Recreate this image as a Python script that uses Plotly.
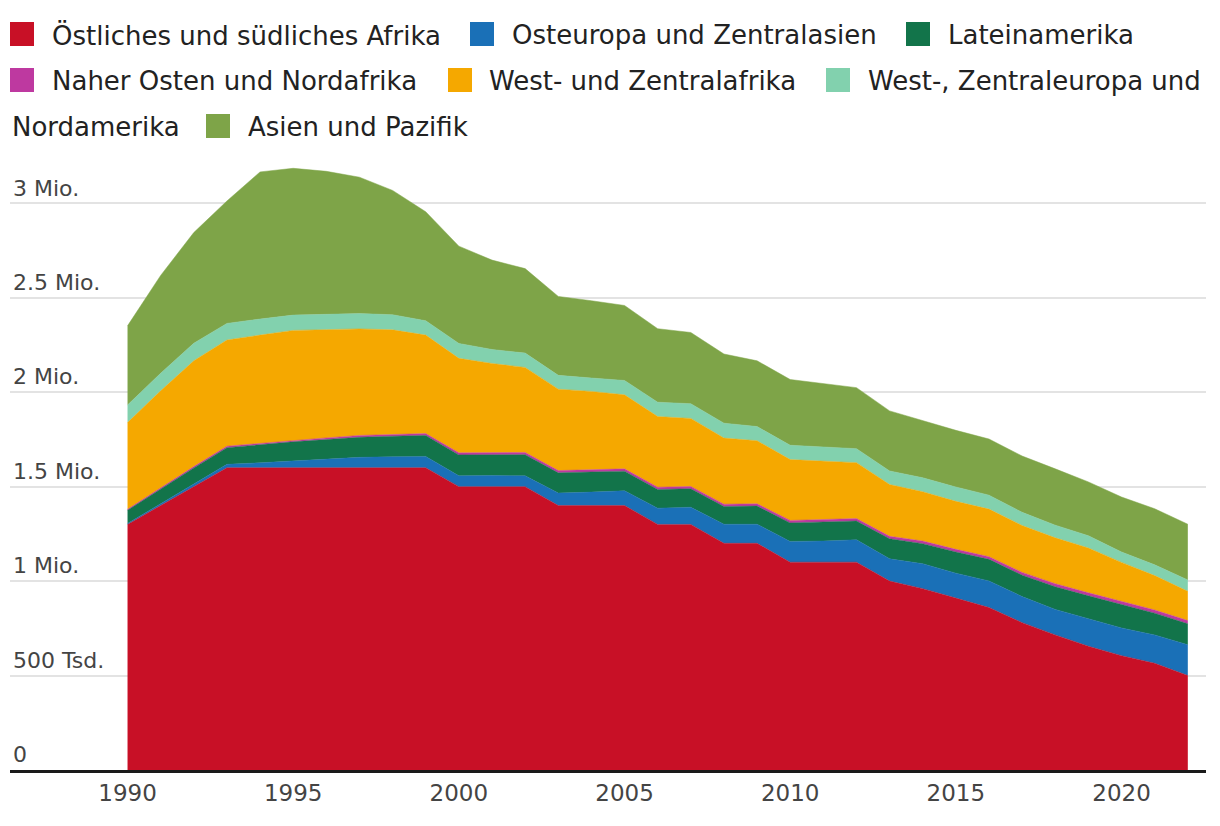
import plotly.graph_objects as go

# ---------------- data (thousands of new infections) ----------------
years = list(range(1990, 2023))

names = [
    "Östliches und südliches Afrika",
    "Osteuropa und Zentralasien",
    "Lateinamerika",
    "Naher Osten und Nordafrika",
    "West- und Zentralafrika",
    "West-, Zentraleuropa und Nordamerika",
    "Asien und Pazifik",
]

east_south_africa = [1300, 1400, 1500, 1600, 1600, 1600, 1600, 1600, 1600, 1600, 1500,
                     1500, 1500, 1400, 1400, 1400, 1300, 1300, 1200, 1200, 1100, 1100,
                     1100, 1000, 960, 910, 860, 780, 715, 655, 605, 565, 500]
east_europe_central_asia = [5, 10, 15, 18, 26, 35, 45, 55, 58, 60, 57,
                            59, 57, 66, 71, 78, 86, 91, 101, 101, 110, 112,
                            119, 118, 132, 132, 141, 138, 135, 145, 147, 150, 163]
latin_america = [70, 78, 84, 88, 96, 102, 104, 106, 109, 111, 111,
                 109, 112, 107, 106, 104, 99, 98, 94, 96, 98, 100,
                 99, 106, 106, 112, 114, 113, 120, 122, 122, 115, 111]
middle_east_north_africa = [5, 6, 7, 8, 8, 9, 9, 10, 10, 10, 11,
                            11, 12, 12, 12, 12, 12, 12, 12, 12, 13, 13,
                            13, 13, 14, 14, 14, 15, 16, 16, 17, 17, 17]
west_central_africa = [459, 513, 560, 562, 572, 581, 573, 564, 553, 521, 500,
                       473, 450, 431, 415, 392, 374, 360, 350, 334, 322, 311,
                       296, 274, 261, 254, 252, 248, 243, 237, 208, 182, 155]
west_central_europe_na = [93, 93, 93, 88, 85, 81, 81, 81, 80, 76, 79,
                          74, 76, 73, 71, 76, 76, 78, 79, 75, 76, 74,
                          74, 72, 74, 76, 74, 70, 67, 65, 55, 57, 60]
asia_pacific = [419, 518, 586, 648, 779, 777, 757, 722, 658, 577, 515,
                473, 447, 418, 409, 397, 389, 377, 366, 348, 348, 335,
                323, 318, 302, 300, 297, 298, 298, 285, 291, 297, 295]

series = [east_south_africa, east_europe_central_asia, latin_america,
          middle_east_north_africa, west_central_africa,
          west_central_europe_na, asia_pacific]

colors = ["#C81026", "#1A70B7", "#12744A", "#BE39A0", "#F5A800", "#82D1AE", "#7EA448"]

y_tickvals = [0, 500000, 1000000, 1500000, 2000000, 2500000, 3000000]
y_ticktext = ["0", "500 Tsd.", "1 Mio.", "1.5 Mio.", "2 Mio.", "2.5 Mio.", "3 Mio."]
x_tickvals = [1990, 1995, 2000, 2005, 2010, 2015, 2020]

# ---------------- figure ----------------
W, H = 1220, 826
L, R, T, B = 10, 14, 160, 56
FONT = "DejaVu Sans"

fig = go.Figure()
for name, vals, col in zip(names, series, colors):
    fig.add_trace(go.Scatter(
        x=years, y=[v * 1000 for v in vals], name=name,
        mode="lines", stackgroup="one",
        line=dict(width=0.5, color=col), fillcolor=col,
        hoverinfo="x+y+name",
    ))


def px_x(px):
    return (px - L) / (W - L - R)


def px_y(py):
    return (H - B - py) / (H - T - B)


# custom legend (wrapping like the original)
legend_items = [
    # (row_y_center, square_left, text_left, text, color)
    (34, 10, 50, names[0], colors[0]),
    (34, 470, 510, names[1], colors[1]),
    (34, 906, 946, names[2], colors[2]),
    (80, 10, 50, names[3], colors[3]),
    (80, 448, 487, names[4], colors[4]),
    (80, 826, 866, "West-, Zentraleuropa und", colors[5]),
    (126, None, 10, "Nordamerika", None),
    (126, 206, 246, names[6], colors[6]),
]
for yc, sq, tx, text, col in legend_items:
    if sq is not None:
        fig.add_shape(type="rect", xref="paper", yref="paper",
                      x0=px_x(sq), x1=px_x(sq + 24),
                      y0=px_y(yc + 12), y1=px_y(yc - 12),
                      fillcolor=col, line=dict(width=0))
    fig.add_annotation(xref="paper", yref="paper", x=px_x(tx), y=px_y(yc + 1),
                       text=text, showarrow=False, xanchor="left", yanchor="middle",
                       font=dict(family=FONT, size=26, color="#222222"))

fig.update_layout(
    width=W, height=H,
    margin=dict(l=L, r=R, t=T, b=B, pad=0),
    paper_bgcolor="white", plot_bgcolor="white",
    showlegend=False,
    font=dict(family=FONT, color="#444444"),
    xaxis=dict(
        range=[1986.453, 2022.549], tickvals=x_tickvals,
        showgrid=False, zeroline=False,
        showline=True, linecolor="#1a1a1a", linewidth=3,
        ticks="", tickfont=dict(size=23, color="#444444"),
        fixedrange=True,
    ),
    yaxis=dict(
        range=[0, 3229000], tickvals=y_tickvals, ticktext=y_ticktext,
        showgrid=True, gridcolor="#e3e3e3", gridwidth=2,
        zeroline=False, showline=False, ticks="",
        ticklabelposition="inside top",
        tickfont=dict(size=22, color="#444444"),
        fixedrange=True,
    ),
)

fig.write_html("out.html", config={"displayModeBar": False},
               post_script="document.body.style.margin='0px';")
